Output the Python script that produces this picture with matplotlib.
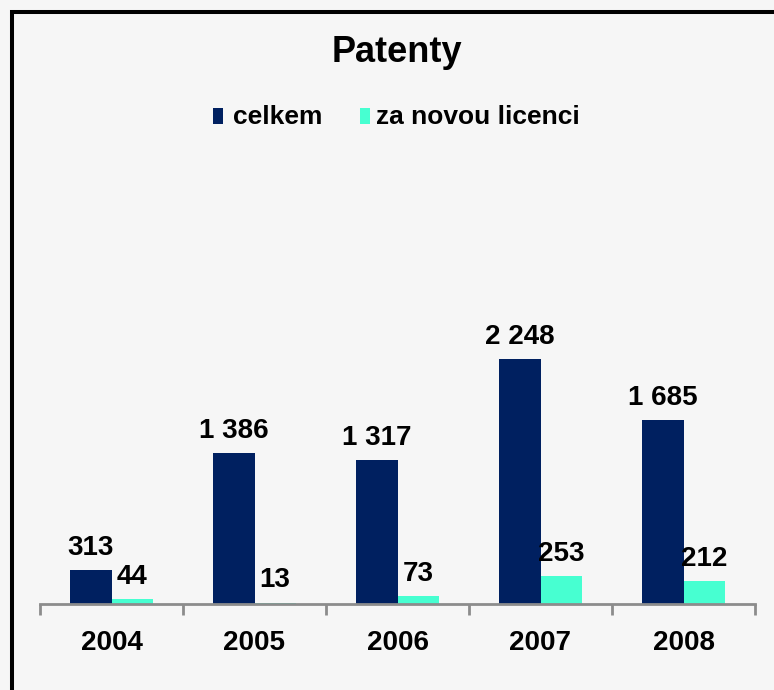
import matplotlib; matplotlib.use("Agg")
import matplotlib.pyplot as plt
import numpy as np
from matplotlib.patches import Rectangle

plt.rcParams["font.family"] = ["Liberation Sans", "DejaVu Sans"]

years = ["2004", "2005", "2006", "2007", "2008"]
celkem = [313, 1386, 1317, 2248, 1685]
licence = [44, 13, 73, 253, 212]
series_names = ["celkem", "za novou licenci"]
colors = ["#002060", "#47ffd1"]

W, H = 774, 690
fig = plt.figure(figsize=(W / 100, H / 100), dpi=100, facecolor="#f6f6f6")
ax = fig.add_axes([40 / W, 1 - 604 / H, 715 / W, 436 / H])
ax.set_facecolor("none")

x = np.arange(len(years))
w = 0.287
fmt = lambda v: f"{v:,}".replace(",", " ")
for vals, col, dx in [(celkem, colors[0], -w / 2), (licence, colors[1], w / 2)]:
    bars = ax.bar(x + dx, vals, w, color=col, zorder=2)
    for b, v in zip(bars, vals):
        ax.annotate(fmt(v), (b.get_x() + b.get_width() / 2, v), xytext=(0, 11),
                    textcoords="offset points", ha="center", va="baseline",
                    fontsize=20, weight="bold")

ax.set_xlim(-0.5, len(years) - 0.5)
ax.set_ylim(0, 4000)
for s in ["left", "right", "top"]:
    ax.spines[s].set_visible(False)
ax.spines["bottom"].set_color("#8c8c8c")
ax.spines["bottom"].set_linewidth(2)
ax.set_yticks([])
ax.set_xticks(x)
ax.set_xticklabels(years, fontsize=20, weight="bold")
ax.tick_params(axis="x", which="major", length=0, pad=19)
ax.set_xticks(np.arange(len(years) + 1) - 0.5, minor=True)
ax.tick_params(axis="x", which="minor", length=8, width=2, color="#8c8c8c", direction="out")

# title + legend
fig.text(397 / W, 1 - 52 / H, "Patenty", ha="center", va="center", fontsize=26, weight="bold")
for (mx, tx), name, col in zip([(213, 233), (360, 376)], series_names, colors):
    fig.patches.append(Rectangle((mx / W, 1 - 124 / H), 10 / W, 16 / H, transform=fig.transFigure,
                                 fc=col, ec="none"))
    fig.text(tx / W, 1 - 117 / H, name, ha="left", va="center", fontsize=19, weight="bold")

# black frame on left/top
fig.patches.append(Rectangle((12 / W, -0.1), 1.0, 1.1 - 12 / H, transform=fig.transFigure,
                             fill=False, ec="black", lw=2.9))

fig.savefig("out.png", dpi=100, facecolor=fig.get_facecolor())
